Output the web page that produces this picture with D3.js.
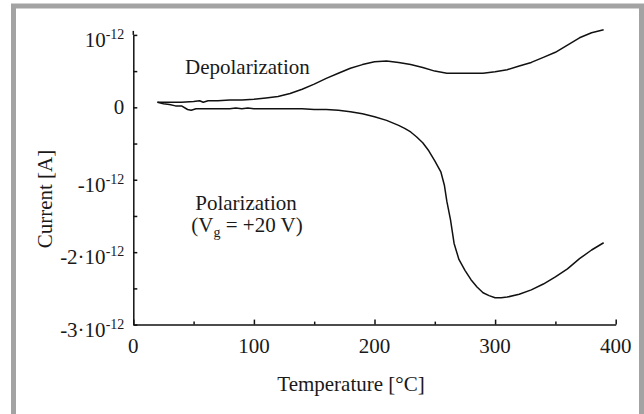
<!DOCTYPE html>
<html>
<head>
<meta charset="utf-8">
<script src="https://cdn.jsdelivr.net/npm/d3@7"></script>
<style>
  body { margin: 0; background: #fff; }
</style>
</head>
<body>
<svg id="chart" width="644" height="414"></svg>
<script>
// values, current in units of 1e-12 A
var depolTemp = [20, 30, 40, 50, 55, 58, 62, 70, 80, 90, 100, 110, 120, 130, 140, 150, 160, 170, 180, 190, 200, 210, 220, 230, 240, 250, 260, 270, 280, 290, 300, 310, 320, 330, 340, 350, 360, 370, 380, 390]
var depolCurrent = [0.07, 0.07, 0.07, 0.08, 0.09, 0.07, 0.09, 0.09, 0.10, 0.10, 0.11, 0.13, 0.15, 0.19, 0.25, 0.32, 0.40, 0.47, 0.54, 0.59, 0.63, 0.64, 0.62, 0.59, 0.55, 0.50, 0.47, 0.47, 0.47, 0.47, 0.49, 0.52, 0.57, 0.62, 0.69, 0.76, 0.86, 0.96, 1.03, 1.07]

var polTemp = [20, 25, 30, 35, 40, 45, 48, 52, 60, 80, 85, 90, 95, 100, 110, 120, 130, 140, 150, 160, 170, 180, 190, 200, 210, 220, 225, 230, 235, 240, 245, 250, 255, 258, 260, 263, 266, 270, 275, 280, 285, 290, 295, 300, 305, 310, 320, 330, 340, 350, 360, 370, 380, 390]
var polCurrent = [0.07, 0.05, 0.04, 0.02, 0.02, -0.03, -0.04, -0.02, -0.02, -0.02, -0.01, -0.02, -0.01, -0.02, -0.02, -0.02, -0.02, -0.02, -0.03, -0.03, -0.04, -0.06, -0.09, -0.13, -0.18, -0.25, -0.29, -0.34, -0.41, -0.49, -0.60, -0.74, -0.89, -1.08, -1.30, -1.55, -1.88, -2.10, -2.25, -2.38, -2.48, -2.56, -2.60, -2.63, -2.63, -2.62, -2.58, -2.52, -2.44, -2.34, -2.23, -2.09, -1.97, -1.87]

var xTicks = [0, 100, 200, 300, 400]
var xMinorTicks = [50, 150, 250, 350]
var yTicks = [1, 0, -1, -2, -3]
var yMinorTicks = [0.5, -0.5, -1.5, -2.5]
// tick labels: [mantissa text, exponent text]
var yTickLabels = [["10", "-12"], ["0", ""], ["-10", "-12"], ["-2\u00b710", "-12"], ["-3\u00b710", "-12"]]

var FONT = "'Liberation Serif', 'Times New Roman', serif"

var svg = d3.select("#chart")

// grey frame
svg.append("rect")
    .attr("x", 13.5).attr("y", 6)
    .attr("width", 628).attr("height", 430)
    .attr("fill", "none")
    .attr("stroke", "#a3a3a3")
    .attr("stroke-width", 5)

var x = d3.scaleLinear().domain([0, 400]).range([133.3, 615.7])
var y = d3.scaleLinear().domain([-3, 1]).range([324.6, 34.9])

// axes, ticks point inward
var xAxis = d3.axisBottom(x).tickValues(xTicks).tickSizeInner(-5).tickSizeOuter(0).tickFormat("")
var xMinor = d3.axisBottom(x).tickValues(xMinorTicks).tickSizeInner(-3).tickSizeOuter(0).tickFormat("")
var yAxis = d3.axisLeft(y).tickValues(yTicks.concat(yMinorTicks)).tickSizeInner(-4).tickSizeOuter(0).tickFormat("")

svg.append("g").attr("transform", "translate(0," + y(-3) + ")").call(xAxis)
svg.append("g").attr("transform", "translate(0," + y(-3) + ")").call(xMinor).select(".domain").remove()
svg.append("g").attr("transform", "translate(" + x(0) + ",0)").call(yAxis)

svg.selectAll(".domain, .tick line")
    .attr("stroke", "#111")
    .attr("stroke-width", 1.5)

// y axis extends a little above the top tick
svg.append("line")
    .attr("x1", x(0)).attr("x2", x(0))
    .attr("y1", y(1)).attr("y2", y(1) - 4)
    .attr("stroke", "#111").attr("stroke-width", 1.5)

function label(sel){
    return sel.attr("font-family", FONT).attr("font-size", 21).attr("fill", "#1a1a1a")
}

// x tick labels
svg.selectAll(".xlab")
    .data(xTicks)
    .enter().append("text")
    .attr("class", "xlab")
    .call(label)
    .attr("x", function(d){ return x(d) })
    .attr("y", y(-3) + 28.5)
    .attr("text-anchor", "middle")
    .text(function(d){ return d })

// y tick labels with superscript exponent
var yl = svg.selectAll(".ylab")
    .data(yTicks)
    .enter().append("text")
    .attr("class", "ylab")
    .call(label)
    .attr("x", x(0) - 9)
    .attr("y", function(d, i){ return y(d) + (yTickLabels[i][1] ? 12 : 7) })
    .attr("text-anchor", "end")
yl.append("tspan").text(function(d, i){ return yTickLabels[i][0] })
yl.append("tspan")
    .attr("dy", -8)
    .attr("font-size", 14)
    .text(function(d, i){ return yTickLabels[i][1] })

// axis titles
svg.append("text")
    .call(label)
    .attr("x", 351).attr("y", 391)
    .attr("text-anchor", "middle")
    .text("Temperature [\u00b0C]")

svg.append("text")
    .call(label)
    .attr("transform", "translate(52,199) rotate(-90)")
    .attr("text-anchor", "middle")
    .text("Current [A]")

// curves
var line = d3.line()
    .x(function(d){ return x(d[0]) })
    .y(function(d){ return y(d[1]) })

function newPath(temps, currents){
    svg.append("path")
        .datum(d3.zip(temps, currents))
        .attr("fill", "none")
        .attr("stroke", "#111")
        .attr("stroke-width", 1.5)
        .attr("stroke-linejoin", "round")
        .attr("d", line)
}
newPath(depolTemp, depolCurrent)
newPath(polTemp, polCurrent)

// annotations
svg.append("text")
    .call(label)
    .attr("x", 185).attr("y", 74)
    .text("Depolarization")

svg.append("text")
    .call(label)
    .attr("x", 246).attr("y", 210)
    .attr("text-anchor", "middle")
    .text("Polarization")

var vg = svg.append("text")
    .call(label)
    .attr("x", 247).attr("y", 232)
    .attr("text-anchor", "middle")
vg.append("tspan").text("(V")
vg.append("tspan").attr("dy", 5).attr("font-size", 14).text("g")
vg.append("tspan").attr("dy", -5).text(" = +20 V)")
</script>
</body>
</html>
